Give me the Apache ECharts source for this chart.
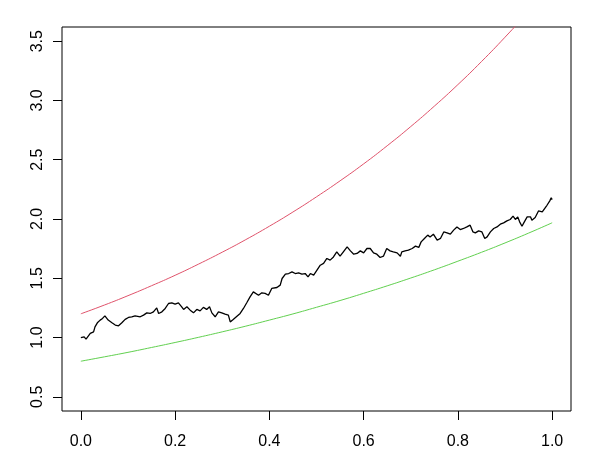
<!DOCTYPE html>
<html>
<head>
<meta charset="utf-8">
<script src="https://cdn.jsdelivr.net/npm/echarts@6/dist/echarts.min.js"></script>
<style>
  html, body { margin: 0; padding: 0; background: #fff; }
  #main { width: 608px; height: 464px; }
</style>
</head>
<body>
<div id="main"></div>
<script>
// ticks
const xTicks = [0, 0.2, 0.4, 0.6, 0.8, 1.0]
const yTicks = [0.5, 1.0, 1.5, 2.0, 2.5, 3.0, 3.5]

// sampled path (t, value)
const walkT = [
  0.000, 0.007, 0.011, 0.015, 0.020, 0.027, 0.030, 0.035, 0.041, 0.046,
  0.051, 0.058, 0.066, 0.073, 0.080, 0.087, 0.094, 0.101, 0.108, 0.115,
  0.119, 0.126, 0.133, 0.140, 0.147, 0.154, 0.161, 0.165, 0.172, 0.179,
  0.186, 0.193, 0.200, 0.207, 0.214, 0.218, 0.225, 0.232, 0.239, 0.246,
  0.253, 0.260, 0.267, 0.273, 0.278, 0.285, 0.292, 0.299, 0.306, 0.313,
  0.317, 0.322, 0.330, 0.338, 0.345, 0.352, 0.359, 0.366, 0.370, 0.377,
  0.384, 0.391, 0.398, 0.405, 0.416, 0.423, 0.427, 0.434, 0.441, 0.448,
  0.455, 0.462, 0.469, 0.476, 0.482, 0.487, 0.494, 0.501, 0.508, 0.515,
  0.522, 0.529, 0.536, 0.543, 0.550, 0.557, 0.565, 0.572, 0.579, 0.586,
  0.593, 0.600, 0.607, 0.614, 0.621, 0.628, 0.635, 0.642, 0.649, 0.656,
  0.663, 0.671, 0.678, 0.681, 0.688, 0.695, 0.703, 0.710, 0.717, 0.722,
  0.729, 0.736, 0.741, 0.748, 0.756, 0.763, 0.770, 0.777, 0.784, 0.791,
  0.798, 0.805, 0.812, 0.819, 0.826, 0.832, 0.837, 0.844, 0.851, 0.857,
  0.862, 0.869, 0.876, 0.883, 0.890, 0.897, 0.904, 0.911, 0.917, 0.922,
  0.927, 0.931, 0.936, 0.941, 0.947, 0.954, 0.957, 0.964, 0.971, 0.979,
  0.983, 0.989, 0.995, 0.998, 1.000
]
const walkV = [
  1.000, 1.006, 0.987, 0.985, 1.035, 1.048, 1.090, 1.124, 1.147, 1.161,
  1.183, 1.147, 1.124, 1.105, 1.099, 1.124, 1.153, 1.169, 1.175, 1.183,
  1.197, 1.175, 1.189, 1.208, 1.203, 1.217, 1.250, 1.203, 1.217, 1.245,
  1.287, 1.293, 1.282, 1.293, 1.259, 1.237, 1.259, 1.231, 1.208, 1.237,
  1.225, 1.254, 1.237, 1.259, 1.208, 1.175, 1.217, 1.208, 1.197, 1.189,
  1.132, 1.147, 1.175, 1.203, 1.245, 1.293, 1.343, 1.385, 1.400, 1.357,
  1.377, 1.372, 1.357, 1.414, 1.422, 1.442, 1.498, 1.535, 1.540, 1.554,
  1.540, 1.546, 1.535, 1.540, 1.512, 1.540, 1.526, 1.568, 1.610, 1.625,
  1.667, 1.653, 1.680, 1.723, 1.686, 1.723, 1.765, 1.731, 1.703, 1.709,
  1.731, 1.714, 1.751, 1.751, 1.714, 1.703, 1.675, 1.686, 1.751, 1.731,
  1.723, 1.714, 1.686, 1.723, 1.731, 1.737, 1.751, 1.771, 1.760, 1.807,
  1.836, 1.864, 1.849, 1.872, 1.821, 1.836, 1.891, 1.883, 1.872, 1.906,
  1.933, 1.911, 1.920, 1.933, 1.948, 1.891, 1.883, 1.900, 1.891, 1.836,
  1.849, 1.891, 1.920, 1.933, 1.956, 1.967, 1.984, 1.996, 2.024, 1.996,
  2.018, 1.976, 1.939, 1.976, 2.018, 2.018, 1.990, 2.013, 2.068, 2.060,
  2.068, 2.116, 2.153, 2.178, 2.164
]

// bound curves, read every 0.05
const boundT = [
  0.00, 0.05, 0.10, 0.15, 0.20, 0.25, 0.30, 0.35, 0.40, 0.45, 0.50,
  0.55, 0.60, 0.65, 0.70, 0.75, 0.80, 0.85, 0.90, 0.95, 1.00
]
const upperV = [
  1.200, 1.274, 1.353, 1.437, 1.525, 1.620, 1.720, 1.826, 1.939, 2.059, 2.187,
  2.322, 2.465, 2.618, 2.780, 2.952, 3.134, 3.328, 3.534, 3.752, 3.984
]
const lowerV = [
  0.800, 0.837, 0.875, 0.916, 0.958, 1.002, 1.048, 1.096, 1.147, 1.199, 1.255,
  1.312, 1.373, 1.436, 1.502, 1.571, 1.644, 1.719, 1.798, 1.881, 1.968
]

const pairs = (xs, ys) => xs.map((x, i) => [x, ys[i]])

const myChart = echarts.init(document.getElementById('main'))
const font = 'Liberation Sans, Arial, sans-serif'

const option = {
  animation: false,
  backgroundColor: '#fff',
  grid: {
    left: 62,
    right: 37,
    top: 27,
    bottom: 53,
    show: true,
    borderColor: '#000',
    borderWidth: 1
  },
  xAxis: {
    type: 'value',
    min: -0.04,
    max: 1.04,
    axisLine: { show: false, onZero: false },
    splitLine: { show: false },
    axisTick: {
      show: true,
      length: 9,
      customValues: xTicks,
      lineStyle: { color: '#000', width: 1 }
    },
    axisLabel: {
      customValues: xTicks,
      margin: 23,
      color: '#000',
      fontSize: 16,
      fontFamily: font,
      formatter: v => v.toFixed(1)
    }
  },
  yAxis: {
    type: 'value',
    min: 0.38,
    max: 3.62,
    axisLine: { show: false, onZero: false },
    splitLine: { show: false },
    axisTick: {
      show: true,
      length: 9,
      customValues: yTicks,
      lineStyle: { color: '#000', width: 1 }
    },
    axisLabel: {
      customValues: yTicks,
      rotate: 90,
      margin: 16,
      color: '#000',
      fontSize: 16,
      fontFamily: font,
      formatter: v => v.toFixed(1)
    }
  },
  series: [
    {
      name: 'path',
      type: 'line',
      symbol: 'none',
      data: pairs(walkT, walkV),
      lineStyle: { color: '#000', width: 1.3 }
    },
    {
      name: 'upper',
      type: 'line',
      symbol: 'none',
      smooth: true,
      clip: true,
      data: pairs(boundT, upperV),
      lineStyle: { color: '#DF536B', width: 1 }
    },
    {
      name: 'lower',
      type: 'line',
      symbol: 'none',
      smooth: true,
      data: pairs(boundT, lowerV),
      lineStyle: { color: '#61D04F', width: 1 }
    }
  ]
}
myChart.setOption(option)
</script>
</body>
</html>
